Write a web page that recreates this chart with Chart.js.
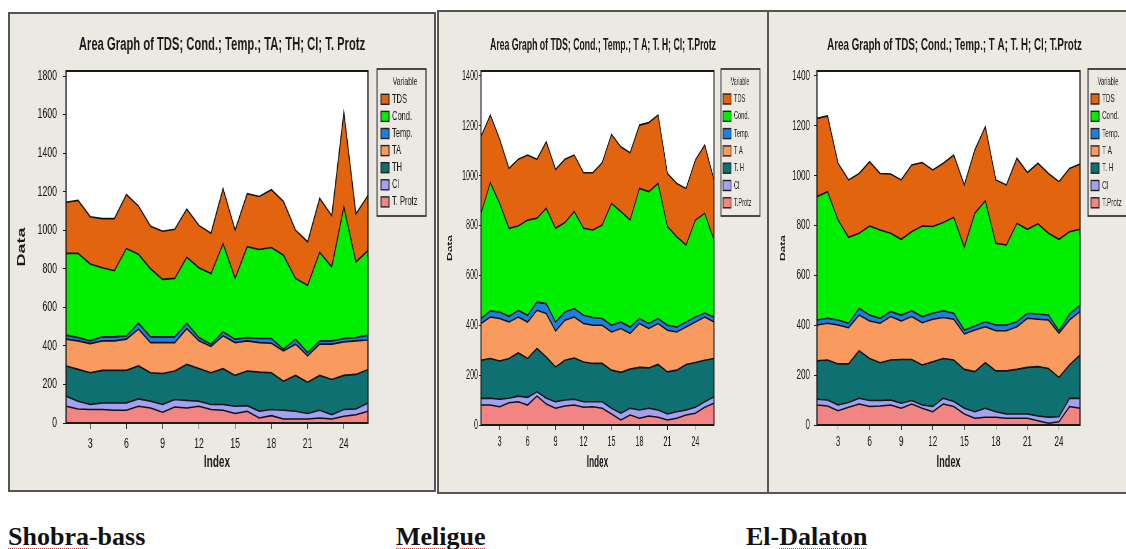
<!DOCTYPE html>
<html>
<head>
<meta charset="utf-8">
<script src="https://cdn.jsdelivr.net/npm/chart.js@4.4.1/dist/chart.umd.min.js"></script>
<style>
  html, body { margin: 0; padding: 0; background: #fff; width: 1126px; height: 549px; overflow: hidden; position: relative; }
  .panel { position: absolute; box-sizing: border-box; border: 2px solid #555; background: #ECE9E2; overflow: hidden; }
  .squeeze { position: absolute; left: 0; top: 0; transform-origin: 0 0; }
  .site { position: absolute; top: 524px; font: bold 26px "Liberation Serif", "Times New Roman", serif; line-height: 26px; color: #111; white-space: nowrap; }
  .spell { text-decoration: underline dotted #d84040; text-underline-offset: 3px; text-decoration-thickness: 1px; }
</style>
</head>
<body>
<div class="panel" style="left:8px;top:12px;width:428px;height:480px"><div class="squeeze"><canvas id="c1"></canvas></div></div>
<div class="panel" style="left:437px;top:10px;width:332px;height:484px"><div class="squeeze"><canvas id="c2"></canvas></div></div>
<div class="panel" style="left:767px;top:10px;width:375px;height:484px"><div class="squeeze"><canvas id="c3"></canvas></div></div>

<div class="site" style="left:8px"><span class="spell">Shobra</span>-bass</div>
<div class="site" style="left:396px"><span class="spell">Meligue</span></div>
<div class="site" style="left:746px">El-<span class="spell">Dalaton</span></div>

<script>
const indexLabels = [1, 2, 3, 4, 5, 6, 7, 8, 9, 10, 11, 12, 13, 14, 15, 16, 17, 18, 19, 20, 21, 22, 23, 24, 25, 26];
const shobraYTicks = [0, 200, 400, 600, 800, 1000, 1200, 1400, 1600, 1800];
const otherYTicks  = [0, 200, 400, 600, 800, 1000, 1200, 1400];

// Shobra-bass
const shobraTProtz = [87, 73, 70, 70, 66, 66, 87, 78, 56, 83, 78, 87, 70, 66, 49, 61, 26, 38, 21, 21, 21, 26, 21, 35, 43, 61];
const shobraCl     = [52, 40, 26, 34, 38, 38, 38, 35, 40, 39, 39, 26, 26, 30, 38, 29, 35, 32, 45, 40, 28, 40, 22, 35, 30, 43];
const shobraTH     = [157, 165, 165, 169, 169, 169, 171, 148, 161, 148, 187, 170, 165, 186, 160, 180, 203, 191, 151, 186, 163, 181, 183, 177, 179, 174];
const shobraTA     = [139, 148, 151, 153, 153, 162, 191, 156, 160, 147, 186, 143, 136, 170, 170, 156, 153, 153, 157, 162, 136, 162, 183, 174, 174, 153];
const shobraTemp   = [21, 17, 14, 21, 21, 17, 31, 30, 30, 30, 28, 17, 12, 21, 18, 17, 21, 24, 9, 26, 17, 17, 17, 17, 17, 25];
const shobraCond   = [424, 437, 399, 358, 343, 453, 357, 353, 298, 303, 342, 362, 366, 457, 315, 472, 462, 472, 487, 315, 350, 459, 384, 682, 392, 439];
const shobraTDS    = [265, 275, 245, 255, 270, 280, 250, 220, 250, 255, 250, 220, 210, 285, 250, 275, 275, 300, 280, 250, 225, 280, 265, 490, 250, 285];

// Meligue
const meligueTProtz = [80, 80, 73, 89, 93, 80, 116, 84, 67, 76, 80, 71, 73, 67, 44, 20, 40, 27, 36, 31, 20, 27, 40, 47, 71, 87];
const meligueCl     = [27, 27, 30, 18, 23, 31, 17, 23, 26, 24, 23, 22, 20, 26, 23, 27, 27, 33, 31, 29, 24, 26, 20, 24, 22, 26];
const meligueTH     = [153, 160, 154, 160, 173, 156, 174, 166, 140, 160, 166, 160, 154, 154, 153, 164, 157, 171, 162, 183, 169, 167, 183, 180, 167, 154];
const meligueTA     = [147, 166, 170, 146, 144, 146, 153, 174, 144, 160, 164, 154, 153, 153, 153, 176, 143, 176, 158, 164, 167, 153, 150, 162, 173, 146];
const meligueTemp   = [20, 24, 26, 23, 27, 27, 33, 40, 36, 33, 34, 33, 31, 27, 27, 26, 26, 20, 20, 20, 20, 20, 20, 20, 16, 20];
const meligueCond   = [422, 515, 436, 353, 338, 382, 336, 382, 376, 359, 389, 349, 351, 375, 489, 443, 429, 522, 529, 542, 396, 362, 309, 389, 400, 309];
const meligueTDS    = [308, 271, 257, 240, 268, 261, 237, 267, 236, 254, 227, 223, 230, 250, 277, 260, 270, 254, 277, 274, 213, 214, 227, 241, 274, 241];

// El-Dalaton
const dalatonTProtz = [80, 76, 57, 71, 84, 74, 76, 80, 67, 84, 67, 53, 84, 74, 44, 27, 31, 31, 27, 27, 27, 17, 7, 13, 74, 67];
const dalatonCl     = [23, 24, 23, 19, 23, 24, 22, 20, 20, 14, 13, 21, 23, 20, 23, 26, 36, 22, 17, 17, 17, 19, 24, 20, 33, 40];
const dalatonTH     = [155, 161, 165, 155, 191, 169, 152, 161, 176, 165, 161, 180, 160, 167, 156, 161, 183, 164, 173, 179, 187, 198, 196, 158, 134, 174];
const dalatonTA     = [143, 147, 156, 145, 143, 150, 158, 174, 154, 172, 169, 170, 164, 163, 142, 167, 144, 161, 161, 171, 197, 190, 194, 177, 180, 174];
const dalatonTemp   = [20, 20, 20, 18, 27, 24, 20, 20, 24, 23, 25, 24, 27, 24, 16, 16, 20, 23, 23, 20, 20, 21, 20, 10, 24, 26];
const dalatonCond   = [495, 508, 401, 345, 301, 357, 354, 314, 304, 317, 363, 348, 354, 385, 332, 452, 486, 328, 321, 395, 337, 362, 328, 367, 330, 304];
const dalatonTDS    = [314, 304, 228, 230, 240, 258, 227, 238, 238, 268, 255, 227, 238, 250, 250, 254, 297, 254, 241, 261, 228, 243, 240, 231, 254, 262];

// stacking order, bottom first
const shobraNames = ['T. Protz', 'Cl', 'TH', 'TA', 'Temp.', 'Cond.', 'TDS'];
const otherNames  = ['T.Protz', 'Cl', 'T. H', 'T A', 'Temp.', 'Cond.', 'TDS'];
const colors = ['#F28484', '#A4A0F2', '#0E7070', '#F99B5E', '#1C7FE2', '#00EE00', '#E2640E'];

Chart.defaults.font.family = '"Liberation Sans", Arial, sans-serif';
Chart.defaults.color = '#1a1a1a';

// white plot area + black frame
const framePlugin = {
  id: 'mtFrame',
  beforeDraw(chart) {
    const { ctx, chartArea: a } = chart;
    ctx.save();
    ctx.fillStyle = '#fff';
    ctx.fillRect(a.left, a.top, a.right - a.left, a.bottom - a.top);
    ctx.restore();
  },
  afterDatasetsDraw(chart) {
    const { ctx, chartArea: a } = chart;
    ctx.save();
    ctx.strokeStyle = '#1a1a1a';
    ctx.lineWidth = 2;
    ctx.strokeRect(a.left, a.top, a.right - a.left, a.bottom - a.top);
    ctx.restore();
  }
};

// boxed "Variable" legend, options in panel pixels
const legendPlugin = {
  id: 'mtLegend',
  afterDraw(chart, args, o) {
    const ctx = chart.ctx, s = o.s;
    ctx.save();
    ctx.strokeStyle = '#222';
    ctx.lineWidth = 1.6;
    ctx.strokeRect(o.left / s, o.top, o.width / s, o.height);
    ctx.fillStyle = '#222';
    ctx.textAlign = 'center';
    ctx.textBaseline = 'middle';
    ctx.font = o.titleSize + 'px "Liberation Sans", Arial, sans-serif';
    ctx.fillText('Variable', o.titleCx / s, o.titleCy);
    ctx.font = o.itemSize + 'px "Liberation Sans", Arial, sans-serif';
    ctx.textAlign = 'left';
    chart.data.datasets.slice().reverse().forEach((ds, k) => {
      const cy = o.firstY + k * o.step;
      ctx.fillStyle = ds.backgroundColor;
      ctx.fillRect(o.swX / s, cy - o.swH / 2, o.swW / s, o.swH);
      ctx.lineWidth = 1.4;
      ctx.strokeRect(o.swX / s, cy - o.swH / 2, o.swW / s, o.swH);
      ctx.fillStyle = '#1a1a1a';
      ctx.fillText(ds.label, o.textX / s, cy);
    });
    ctx.restore();
  }
};

function makePanel(id, p) {
  const canvas = document.getElementById(id);
  const wrap = canvas.parentNode;
  const w = Math.round(p.innerW / p.s);
  const s = p.innerW / w;
  wrap.style.width = w + 'px';
  wrap.style.height = p.innerH + 'px';
  wrap.style.transform = 'scaleX(' + s + ')';

  const titleLH = p.titleSize * 1.2;
  const yTitleLH = p.yTitleSize * 1.2;
  const xTitleLH = p.xTitleSize * 1.2;

  new Chart(canvas, {
    type: 'line',
    data: {
      labels: indexLabels,
      datasets: p.series.map((vals, k) => ({
        label: p.names[k],
        data: vals,
        backgroundColor: colors[k],
        borderColor: '#111',
        borderWidth: 1.6,
        fill: k === 0 ? 'origin' : '-1',
        pointRadius: 0,
        tension: 0
      }))
    },
    options: {
      responsive: true,
      maintainAspectRatio: false,
      animation: false,
      layout: { padding: 0 },
      plugins: {
        legend: { display: false },
        tooltip: { enabled: false },
        title: {
          display: true,
          text: p.title,
          color: '#1a1a1a',
          font: { size: p.titleSize, weight: 'bold', lineHeight: 1.2 },
          padding: { top: p.titleY - titleLH / 2, bottom: p.plot.top - p.titleY - titleLH / 2 }
        },
        mtLegend: Object.assign({ s: s }, p.legend)
      },
      scales: {
        x: {
          type: 'category',
          offset: false,
          border: { display: false },
          grid: {
            drawOnChartArea: false,
            tickLength: p.xTickLen,
            color: 'rgba(0,0,0,0)',
            tickColor: ctx => (ctx.index + 1) % 3 === 0 ? '#1a1a1a' : 'rgba(0,0,0,0)'
          },
          ticks: {
            autoSkip: false,
            maxRotation: 0,
            padding: p.xTickPad,
            font: { size: p.tickSize },
            callback(v, i) { return (i + 1) % 3 === 0 ? this.getLabelForValue(v) : ''; }
          },
          title: {
            display: true,
            text: 'Index',
            font: { size: p.xTitleSize, weight: 'bold', lineHeight: 1.2 },
            padding: { top: 0, bottom: p.innerH - p.xTitleY - xTitleLH / 2 }
          },
          afterFit(sc) { sc.height = p.innerH - p.plot.bottom; }
        },
        y: {
          stacked: true,
          min: 0,
          max: p.yMax,
          border: { display: false },
          grid: { drawOnChartArea: false, tickLength: p.yTickLen / s, color: '#1a1a1a' },
          ticks: {
            autoSkip: false,
            padding: p.yTickPad / s,
            font: { size: p.tickSize },
            callback: v => String(v)
          },
          afterBuildTicks(sc) { sc.ticks = p.yTicks.map(v => ({ value: v })); },
          title: {
            display: true,
            text: 'Data',
            font: { size: p.yTitleSize, weight: 'bold', lineHeight: 1.2 },
            padding: { top: p.yTitleX / s - yTitleLH / 2, bottom: 0 }
          },
          afterFit(sc) { sc.width = p.plot.left / s; }
        },
        legendSpace: {
          type: 'linear',
          position: 'right',
          display: true,
          border: { display: false },
          grid: { display: false },
          ticks: { display: false },
          afterFit(sc) { sc.width = w - p.plot.right / s; }
        }
      }
    },
    plugins: [framePlugin, legendPlugin]
  });
}

makePanel('c1', {
  innerW: 424, innerH: 476, s: 0.624,
  plot: { left: 56, right: 358, top: 57, bottom: 409 },
  yMax: 1826, yTicks: shobraYTicks,
  title: 'Area Graph of TDS; Cond.; Temp.; TA; TH; Cl; T. Protz',
  titleSize: 18, titleY: 31,
  xTitleSize: 16, xTitleY: 449,
  yTitleSize: 18, yTitleX: 12,
  tickSize: 14, yTickLen: 3, yTickPad: 6, xTickLen: 6, xTickPad: 7,
  names: shobraNames,
  series: [shobraTProtz, shobraCl, shobraTH, shobraTA, shobraTemp, shobraCond, shobraTDS],
  legend: { left: 367, top: 55, width: 49, height: 147, titleCx: 395, titleCy: 68, titleSize: 11,
            firstY: 85.3, step: 17.1, swX: 371, swW: 8, swH: 10, textX: 382, itemSize: 12 }
});

makePanel('c2', {
  innerW: 328, innerH: 480, s: 0.512,
  plot: { left: 42, right: 275, top: 59, bottom: 413 },
  yMax: 1420, yTicks: otherYTicks,
  title: 'Area Graph of TDS; Cond.; Temp.; T A; T. H; Cl; T.Protz',
  titleSize: 17, titleY: 33,
  xTitleSize: 16, xTitleY: 451,
  yTitleSize: 12, yTitleX: 11,
  tickSize: 14, yTickLen: 2, yTickPad: 1, xTickLen: 5, xTickPad: 4,
  names: otherNames,
  series: [meligueTProtz, meligueCl, meligueTH, meligueTA, meligueTemp, meligueCond, meligueTDS],
  legend: { left: 282, top: 57, width: 39, height: 147, titleCx: 301, titleCy: 70, titleSize: 10,
            firstY: 87, step: 17.3, swX: 284, swW: 8, swH: 10, textX: 295, itemSize: 11 }
});

makePanel('c3', {
  innerW: 371, innerH: 480, s: 0.577,
  plot: { left: 48, right: 311, top: 59, bottom: 413 },
  yMax: 1420, yTicks: otherYTicks,
  title: 'Area Graph of TDS; Cond.; Temp.; T A; T. H; Cl; T.Protz',
  titleSize: 17, titleY: 33,
  xTitleSize: 16, xTitleY: 451,
  yTitleSize: 12, yTitleX: 14,
  tickSize: 14, yTickLen: 3, yTickPad: 4, xTickLen: 5, xTickPad: 4,
  names: otherNames,
  series: [dalatonTProtz, dalatonCl, dalatonTH, dalatonTA, dalatonTemp, dalatonCond, dalatonTDS],
  legend: { left: 319, top: 57, width: 50, height: 147, titleCx: 339, titleCy: 70, titleSize: 10,
            firstY: 87, step: 17.3, swX: 322, swW: 8, swH: 10, textX: 333, itemSize: 11 }
});
</script>
</body>
</html>
